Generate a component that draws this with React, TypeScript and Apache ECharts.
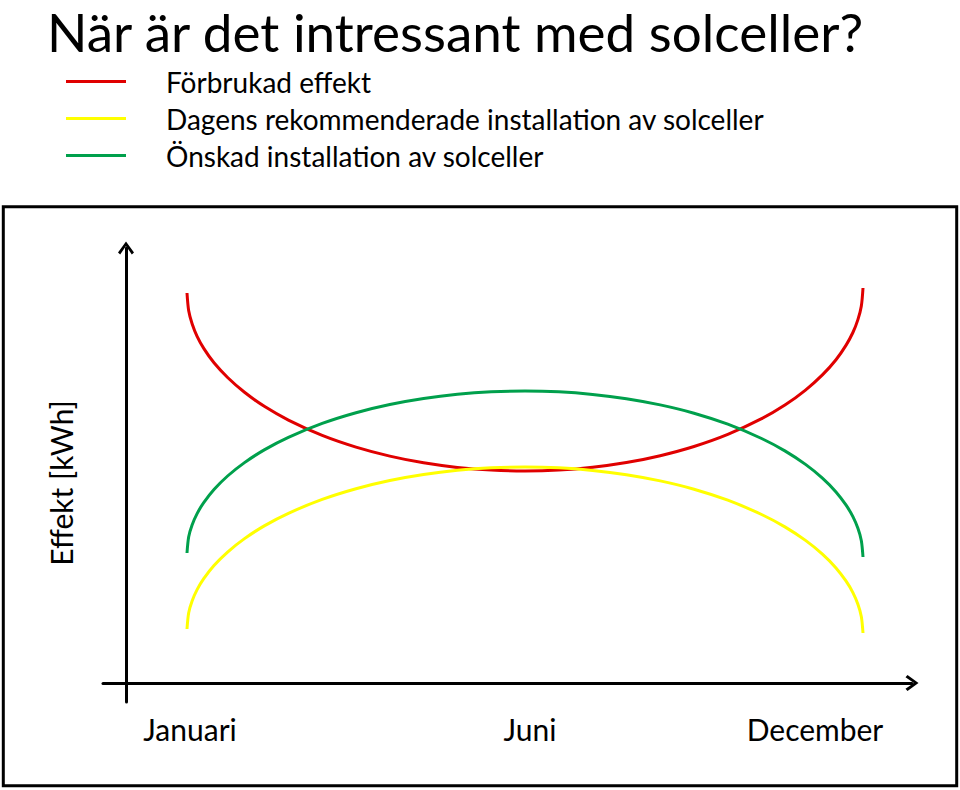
import React, { useEffect, useRef } from 'react';
import * as echarts from 'echarts';

const titleText = 'När är det intressant med solceller?';
const seriesNames = [
  'Förbrukad effekt',
  'Dagens rekommenderade installation av solceller',
  'Önskad installation av solceller',
];
const seriesColors = ['#E00000', '#FFFF00', '#00A04C'];
const yAxisName = 'Effekt [kWh]';
const monthLabels = ['Januari', 'Juni', 'December'];
const monthLabelPositions = [64, 404, 689];

// x positions along the year (axis units)
const xPos = [61.0, 62.7, 66.1, 71.1, 77.9, 88.0, 101.6, 118.5, 138.7, 162.4, 196.2, 230.0, 263.8, 297.6, 331.4, 365.2, 399.0, 432.8, 466.6, 500.4, 534.2, 568.0, 601.8, 635.6, 659.3, 679.5, 696.4, 710.0, 720.1, 726.9, 731.9, 735.3, 737.0];
const redValues = [390, 372.2, 359.3, 346.7, 334.4, 320.2, 305.5, 290.7, 276.4, 262.9, 247.6, 235.9, 226.9, 220.2, 215.6, 212.9, 212, 212.9, 215.7, 220.4, 227.3, 236.5, 248.6, 264.3, 278.2, 292.9, 308.1, 323.3, 337.9, 350.5, 363.4, 376.7, 395];
const yellowValues = [54, 70.2, 82.0, 93.4, 104.6, 117.5, 131.0, 144.4, 157.4, 169.7, 183.6, 194.3, 202.5, 208.5, 212.7, 215.2, 216, 215.2, 212.6, 208.3, 202.1, 193.8, 182.8, 168.5, 155.9, 142.6, 128.9, 115.1, 101.8, 90.4, 78.7, 66.6, 50];
const greenValues = [130, 146.2, 158.0, 169.4, 180.6, 193.5, 207.0, 220.4, 233.4, 245.7, 259.6, 270.3, 278.5, 284.5, 288.7, 291.2, 292, 291.2, 288.6, 284.3, 278.1, 269.8, 258.8, 244.5, 231.9, 218.6, 204.9, 191.1, 177.8, 166.4, 154.7, 142.6, 126];

const FONT = 'Lato';
const ARROW = 'path://M8,0 L16,11 L13.8,13 L8,4.6 L2.2,13 L0,11 Z';

export default function App() {
  const ref = useRef<HTMLDivElement>(null);
  useEffect(() => {
    const chart = echarts.init(ref.current as HTMLDivElement, null, { renderer: 'svg' });
    const allValues = [redValues, yellowValues, greenValues];
    chart.setOption({
      animation: false,
      backgroundColor: '#fff',
      textStyle: { fontFamily: FONT },
      title: {
        text: titleText,
        left: 47,
        top: 5,
        padding: 0,
        textStyle: { fontSize: 53, lineHeight: 53, fontWeight: 'normal', color: '#000', fontFamily: FONT },
      },
      legend: {
        orient: 'vertical',
        left: 66,
        top: 64.5,
        padding: 0,
        itemGap: 3,
        itemWidth: 60,
        itemHeight: 3,
        icon: 'rect',
        selectedMode: false,
        data: seriesNames,
        textStyle: { fontSize: 28, lineHeight: 34, color: '#000', padding: [0, 0, 0, 35], fontFamily: FONT },
      },
      grid: { left: 103, right: 48, top: 248, bottom: 88, outerBoundsMode: 'none' },
      xAxis: {
        type: 'value',
        min: -23,
        max: 786,
        axisLine: {
          onZero: true,
          symbol: ['none', ARROW],
          symbolSize: [16, 13],
          lineStyle: { color: '#000', width: 3 },
        },
        axisTick: { show: false },
        splitLine: { show: false },
        axisLabel: {
          customValues: monthLabelPositions,
          formatter: (v: number) => {
            const i = monthLabelPositions.indexOf(v);
            return i >= 0 ? monthLabels[i] : '';
          },
          fontSize: 30,
          color: '#000',
          margin: 12,
          fontFamily: FONT,
        },
      },
      yAxis: {
        type: 'value',
        min: -19,
        max: 435,
        name: yAxisName,
        nameLocation: 'middle',
        nameRotate: 90,
        nameGap: 27,
        nameTextStyle: { fontSize: 30, color: '#000', fontFamily: FONT, padding: [0, 16, 0, 0] },
        axisLine: {
          onZero: true,
          symbol: ['none', ARROW],
          symbolSize: [16, 13],
          lineStyle: { color: '#000', width: 3 },
        },
        axisTick: { show: false },
        axisLabel: { show: false },
        splitLine: { show: false },
      },
      graphic: [
        {
          type: 'rect',
          shape: { x: 3.3, y: 206.7, width: 953.4, height: 579 },
          style: { fill: 'none', stroke: '#000', lineWidth: 3 },
          silent: true,
        },
      ],
      series: seriesNames.map((name, i) => ({
        name,
        type: 'line',
        data: xPos.map((x, j) => [x, allValues[i][j]]),
        smooth: 0.3,
        symbol: 'none',
        color: seriesColors[i],
        lineStyle: { width: 3, color: seriesColors[i] },
        z: 3,
      })),
    });
    return () => chart.dispose();
  }, []);
  return <div ref={ref} style={{ position: 'absolute', left: 0, top: 0, width: 960, height: 790 }} />;
}
